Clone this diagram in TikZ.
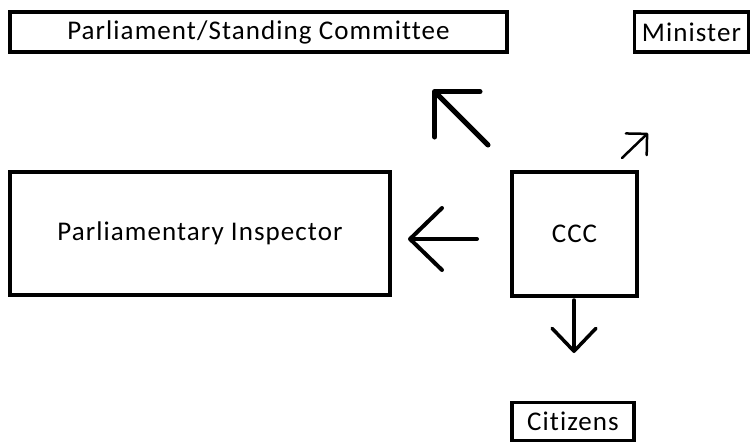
\documentclass[tikz,border=0pt]{standalone}
\usepackage{fontspec}
\setmainfont{Carlito}[Ligatures=NoCommon,LetterSpace=4]
\usetikzlibrary{arrows.meta}
\begin{document}
\begin{tikzpicture}[x=1pt,y=-1pt,
  box/.style={draw=black,line width=3.5pt,inner sep=0pt,font=\fontsize{27}{31}\selectfont,text=black},
  arr/.style={line cap=round,line join=round}]
\useasboundingbox (0,0) rectangle (750,442);
\node[box,minimum width=497pt,minimum height=40pt] (parl) at (258.5,32) {Parliament/Standing Committee};
\node[box,minimum width=114pt,minimum height=40pt] (min) at (691.5,32) {Minister};
\node[box,minimum width=380pt,minimum height=123pt] (insp) at (200,233.5) {Parliamentary Inspector};
\node[box,minimum width=125pt,minimum height=124pt] (ccc) at (574.5,234) {CCC};
\node[box,minimum width=122pt,minimum height=38pt] (cit) at (573,421.5) {Citizens};
\coordinate (la) at (477,239); \coordinate (lb) at (408,239);
\coordinate (da) at (574,300); \coordinate (db) at (574,353);
\coordinate (ua) at (488,145); \coordinate (ub) at (433,90);
\coordinate (ra) at (622,158); \coordinate (rb) at (648,133);
\draw[arr,line width=4pt,-{Straight Barb[round,length=32pt,width=62pt]}] (la) -- (lb);
\draw[arr,line width=3.5pt,-{Straight Barb[round,length=23pt,width=44pt]}] (da) -- (db);
\draw[arr,line width=5pt,-{Straight Barb[round,length=32pt,width=64pt]}] (ua) -- (ub);
\draw[arr,line width=2.5pt,-{Straight Barb[round,length=15pt,width=30pt]}] (ra) -- (rb);
\end{tikzpicture}
\end{document}
